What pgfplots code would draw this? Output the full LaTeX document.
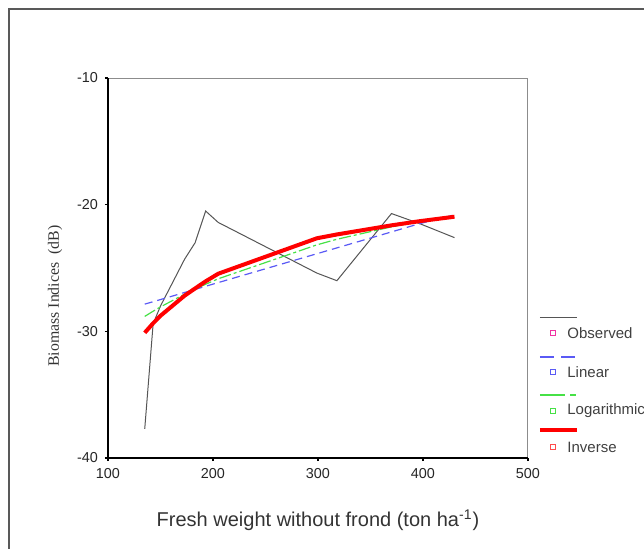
\documentclass[border=0pt]{standalone}
\usepackage{fontspec}
\setmainfont{Liberation Sans}
\newfontfamily\seriffont{Liberation Serif}
\usepackage{pgfplots}
\pgfplotsset{compat=1.18}
\definecolor{obsgray}{RGB}{85,85,85}
\definecolor{linblue}{RGB}{90,90,245}
\definecolor{loggreen}{RGB}{70,225,70}
\definecolor{invred}{RGB}{255,0,0}
\begin{document}
\begin{tikzpicture}
\begin{axis}[
    scale only axis, width=210pt, height=190pt,
    xmin=100, xmax=500, ymin=-40, ymax=-10,
    xtick={100,200,300,400,500},
    ytick={-40,-30,-20,-10},
    tick align=outside, major tick length=1.5pt,
    tick style={black, line width=0.8pt},
    xtick pos=bottom, ytick pos=left,
    axis line style={black!45, line width=0.5pt},
    tick label style={font=\fontsize{7.2}{8}\selectfont, text=black!85},
    /pgf/number format/assume math mode=true,
    clip=false,
    xlabel={Fresh weight without frond (ton ha\textsuperscript{-1})},
    xlabel style={font=\fontsize{10}{12}\selectfont, text=black!80,
        at={(axis description cs:0.5,-0.163)}, anchor=center},
    ylabel={Biomass Indices\ \ (dB)},
    ylabel style={font=\seriffont\fontsize{7.9}{9}\selectfont, text=black!80,
        at={(axis description cs:-0.126,0.426)}, anchor=center},
]

% observed
\addplot[obsgray, line width=0.5pt] coordinates {
    (135,-37.7) (143,-29.4) (150,-28.0) (173,-24.3) (183,-23.0) (193,-20.5)
    (205,-21.4) (299,-25.4) (318,-26.0) (370,-20.7) (397,-21.5) (430,-22.6)};

% linear fit
\addplot[linblue, line width=0.6pt, dash pattern=on 4pt off 2.5pt] coordinates {
    (135,-27.85) (143,-27.66) (150,-27.49) (173,-26.93) (183,-26.69) (193,-26.44)
    (205,-26.15) (299,-23.87) (318,-23.41) (370,-22.15) (397,-21.49) (430,-20.8)};

% logarithmic fit
\addplot[loggreen, line width=0.6pt, dash pattern=on 6pt off 1.5pt on 1.5pt off 1.5pt] coordinates {
    (135,-28.82) (143,-28.41) (150,-28.07) (173,-27.06) (183,-26.66) (193,-26.28)
    (205,-25.85) (299,-23.17) (318,-22.73) (370,-21.75) (397,-21.3) (430,-20.95)};

% inverse fit
\addplot[invred, line width=2pt] coordinates {
    (135,-30.11) (143,-29.36) (150,-28.77) (173,-27.18) (183,-26.61) (193,-26.05)
    (205,-25.45) (299,-22.65) (318,-22.35) (370,-21.63) (397,-21.30) (430,-20.95)};

% black left and bottom axis
\draw[black, line width=0.8pt] (rel axis cs:0,1) -- (rel axis cs:0,0) -- (rel axis cs:1,0);

% outer frame
\draw[black!65, line width=1pt] (rel axis cs:-0.2357,-0.3) -- (rel axis cs:-0.2357,1.1816) -- (rel axis cs:1.35,1.1816);

% legend
\draw[obsgray, line width=0.5pt] (rel axis cs:1.0286,0.3711) -- (rel axis cs:1.1167,0.3711);
\node[draw=magenta!80, inner sep=0pt, minimum size=2.2pt, line width=0.5pt] at (rel axis cs:1.0595,0.3289) {};
\node[anchor=west, inner sep=0pt, font=\fontsize{7.5}{9}\selectfont, text=black!75] at (rel axis cs:1.0929,0.3289) {Observed};

\draw[linblue, line width=0.6pt, dash pattern=on 7pt off 3.5pt] (rel axis cs:1.0286,0.2658) -- (rel axis cs:1.1167,0.2658);
\node[draw=linblue, inner sep=0pt, minimum size=2.2pt, line width=0.5pt] at (rel axis cs:1.0595,0.2263) {};
\node[anchor=west, inner sep=0pt, font=\fontsize{7.5}{9}\selectfont, text=black!75] at (rel axis cs:1.0929,0.2263) {Linear};

\draw[loggreen, line width=0.6pt, dash pattern=on 12.5pt off 2.5pt on 3pt off 2pt] (rel axis cs:1.0286,0.1658) -- (rel axis cs:1.1167,0.1658);
\node[draw=loggreen, inner sep=0pt, minimum size=2.2pt, line width=0.5pt] at (rel axis cs:1.0595,0.1237) {};
\node[anchor=west, inner sep=0pt, font=\fontsize{7.5}{9}\selectfont, text=black!75] at (rel axis cs:1.0929,0.1237) {Logarithmic};

\draw[invred, line width=2pt] (rel axis cs:1.0286,0.0737) -- (rel axis cs:1.1167,0.0737);
\node[draw=invred!70, inner sep=0pt, minimum size=2.2pt, line width=0.5pt] at (rel axis cs:1.0595,0.0289) {};
\node[anchor=west, inner sep=0pt, font=\fontsize{7.5}{9}\selectfont, text=black!75] at (rel axis cs:1.0929,0.0289) {Inverse};

\coordinate (bbsw) at (rel axis cs:-0.2571,-0.2368);
\coordinate (bbne) at (rel axis cs:1.2762,1.2053);
\end{axis}
\pgfresetboundingbox
\path[use as bounding box] (bbsw) rectangle (bbne);
\end{tikzpicture}
\end{document}
